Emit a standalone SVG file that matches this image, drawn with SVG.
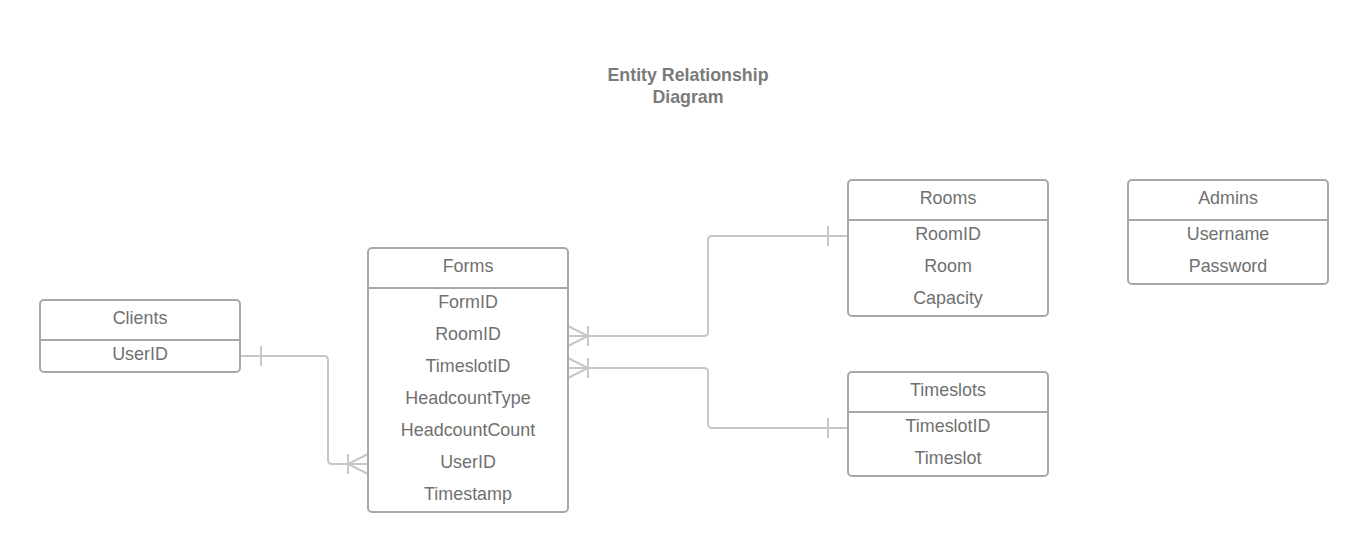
<svg xmlns="http://www.w3.org/2000/svg" width="1368" height="552" viewBox="0 0 1368 552">
<style>
.box{fill:#fff;stroke:#a8a8a8;stroke-width:2}
.div{stroke:#a8a8a8;stroke-width:2}
.t{font-family:"Liberation Sans",Arial,sans-serif;font-size:17.9px;fill:#707070;text-anchor:middle}
.title{font-family:"Liberation Sans",Arial,sans-serif;font-size:17.8px;font-weight:bold;fill:#7a7a7a;text-anchor:middle}
.c{fill:none;stroke:#c8c8c8;stroke-width:2}
</style>
<rect width="1368" height="552" fill="#fff"/>
<g id="title">
<text class="title" x="688" y="81">Entity Relationship</text>
<text class="title" x="688" y="103">Diagram</text>
</g>
<g id="connectors">
<path class="c" d="M240,356 H324 Q328,356 328,360 V460 Q328,464 332,464 H368"/>
<path class="c" d="M261,346 V366"/>
<path class="c" d="M348,454 V474 M368,454 L348,464 L368,474"/>
<path class="c" d="M568,336 H704 Q708,336 708,332 V240 Q708,236 712,236 H848"/>
<path class="c" d="M828,226 V246"/>
<path class="c" d="M588,326 V346 M568,326 L588,336 L568,346"/>
<path class="c" d="M568,368 H704 Q708,368 708,372 V424 Q708,428 712,428 H848"/>
<path class="c" d="M828,418 V438"/>
<path class="c" d="M588,358 V378 M568,358 L588,368 L568,378"/>
</g>
<g id="clients">
<rect class="box" x="40" y="300" width="200" height="72" rx="4"/>
<line class="div" x1="40" y1="340" x2="240" y2="340"/>
<text class="t" x="140" y="323.5">Clients</text>
<text class="t" x="140" y="359.5">UserID</text>
</g>
<g id="forms">
<rect class="box" x="368" y="248" width="200" height="264" rx="4"/>
<line class="div" x1="368" y1="288" x2="568" y2="288"/>
<text class="t" x="468" y="271.5">Forms</text>
<text class="t" x="468" y="307.5">FormID</text>
<text class="t" x="468" y="339.5">RoomID</text>
<text class="t" x="468" y="371.5">TimeslotID</text>
<text class="t" x="468" y="403.5">HeadcountType</text>
<text class="t" x="468" y="435.5">HeadcountCount</text>
<text class="t" x="468" y="467.5">UserID</text>
<text class="t" x="468" y="499.5">Timestamp</text>
</g>
<g id="rooms">
<rect class="box" x="848" y="180" width="200" height="136" rx="4"/>
<line class="div" x1="848" y1="220" x2="1048" y2="220"/>
<text class="t" x="948" y="203.5">Rooms</text>
<text class="t" x="948" y="239.5">RoomID</text>
<text class="t" x="948" y="271.5">Room</text>
<text class="t" x="948" y="303.5">Capacity</text>
</g>
<g id="admins">
<rect class="box" x="1128" y="180" width="200" height="104" rx="4"/>
<line class="div" x1="1128" y1="220" x2="1328" y2="220"/>
<text class="t" x="1228" y="203.5">Admins</text>
<text class="t" x="1228" y="239.5">Username</text>
<text class="t" x="1228" y="271.5">Password</text>
</g>
<g id="timeslots">
<rect class="box" x="848" y="372" width="200" height="104" rx="4"/>
<line class="div" x1="848" y1="412" x2="1048" y2="412"/>
<text class="t" x="948" y="395.5">Timeslots</text>
<text class="t" x="948" y="431.5">TimeslotID</text>
<text class="t" x="948" y="463.5">Timeslot</text>
</g>
</svg>
